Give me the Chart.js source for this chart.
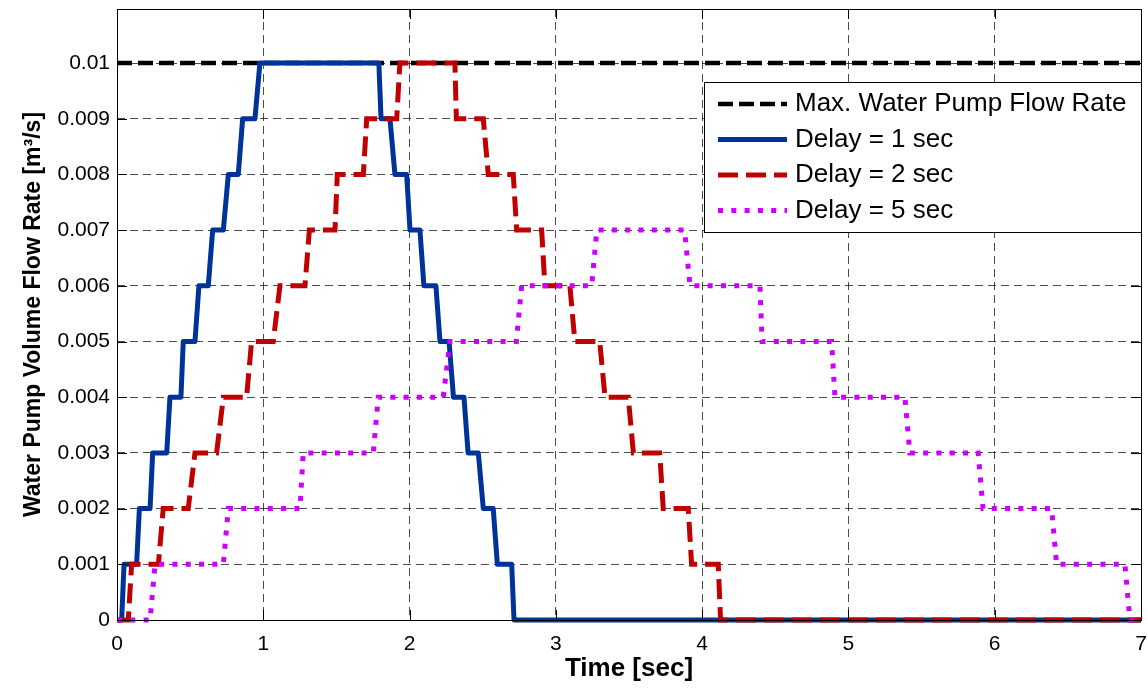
<!DOCTYPE html>
<html lang="en">
<head>
<meta charset="UTF-8">
<title>Water Pump Volume Flow Rate</title>
<script src="https://cdn.jsdelivr.net/npm/chart.js"></script>
<style>
  body { margin: 0; background: #fff; }
  canvas { display: block; }
</style>
</head>
<body>
<canvas id="chart" width="1148" height="688"></canvas>
<script>
// corner points of each curve (time in sec, flow in m3/s)
const timeMax = [0, 7];
const flowMax = [0.01, 0.01];

const timeDelay1 = [0, 0.032, 0.048, 0.134, 0.153, 0.226, 0.244, 0.340, 0.362, 0.437, 0.453,
    0.533, 0.560, 0.624, 0.654, 0.727, 0.761, 0.829, 0.859, 0.943, 0.977,
    1.790, 1.805, 1.866, 1.900, 1.980, 2.003, 2.071, 2.098, 2.180, 2.208,
    2.270, 2.300, 2.372, 2.400, 2.470, 2.504, 2.572, 2.600, 2.698, 2.714, 7];
const flowDelay1 = [0, 0, 0.001, 0.001, 0.002, 0.002, 0.003, 0.003, 0.004, 0.004, 0.005,
    0.005, 0.006, 0.006, 0.007, 0.007, 0.008, 0.008, 0.009, 0.009, 0.010,
    0.010, 0.009, 0.009, 0.008, 0.008, 0.007, 0.007, 0.006, 0.006, 0.005,
    0.005, 0.004, 0.004, 0.003, 0.003, 0.002, 0.002, 0.001, 0.001, 0, 0];

const timeDelay2 = [0, 0.077, 0.100, 0.283, 0.316, 0.487, 0.533, 0.681, 0.727, 0.886, 0.920,
    1.068, 1.114, 1.285, 1.315, 1.490, 1.506, 1.684, 1.707, 1.912, 1.934,
    2.310, 2.320, 2.504, 2.538, 2.709, 2.732, 2.903, 2.925, 3.096, 3.130,
    3.300, 3.336, 3.495, 3.530, 3.710, 3.734, 3.905, 3.928, 4.110, 4.126, 7];
const flowDelay2 = [0, 0, 0.001, 0.001, 0.002, 0.002, 0.003, 0.003, 0.004, 0.004, 0.005,
    0.005, 0.006, 0.006, 0.007, 0.007, 0.008, 0.008, 0.009, 0.009, 0.010,
    0.010, 0.009, 0.009, 0.008, 0.008, 0.007, 0.007, 0.006, 0.006, 0.005,
    0.005, 0.004, 0.004, 0.003, 0.003, 0.002, 0.002, 0.001, 0.001, 0, 0];

const timeDelay5 = [0, 0.226, 0.260, 0.727, 0.761, 1.251, 1.273, 1.752, 1.786, 2.230, 2.276,
    2.730, 2.766, 3.245, 3.280, 3.880, 3.917, 4.395, 4.410, 4.885, 4.908,
    5.386, 5.420, 5.887, 5.920, 6.389, 6.423, 6.890, 6.924, 7];
const flowDelay5 = [0, 0, 0.001, 0.001, 0.002, 0.002, 0.003, 0.003, 0.004, 0.004, 0.005,
    0.005, 0.006, 0.006, 0.007, 0.007, 0.006, 0.006, 0.005, 0.005, 0.004,
    0.004, 0.003, 0.003, 0.002, 0.002, 0.001, 0.001, 0, 0];

const seriesLabels = ["Max. Water Pump Flow Rate", "Delay = 1 sec", "Delay = 2 sec", "Delay = 5 sec"];
const xTicks = [0, 1, 2, 3, 4, 5, 6, 7];
const yTicks = [0, 0.001, 0.002, 0.003, 0.004, 0.005, 0.006, 0.007, 0.008, 0.009, 0.01];

function toPoints(ts, vs) {
    return ts.map((t, i) => ({ x: t, y: vs[i] }));
}

Chart.defaults.font.family = "'Liberation Sans', Arial, sans-serif";
Chart.defaults.color = "#000";

// box round the axes, inward tick marks, and a MATLAB style legend
const framePlugin = {
    id: "frame",
    afterDraw(chart) {
        const ctx = chart.ctx;
        const { left, right, top, bottom } = chart.chartArea;
        const xs = chart.scales.x, ys = chart.scales.y;
        ctx.save();
        ctx.strokeStyle = "#000";
        ctx.lineWidth = 1;
        ctx.setLineDash([]);
        ctx.beginPath();
        xTicks.forEach(v => {
            const px = Math.round(xs.getPixelForValue(v)) + 0.5;
            ctx.moveTo(px, bottom); ctx.lineTo(px, bottom - 10);
            ctx.moveTo(px, top); ctx.lineTo(px, top + 10);
        });
        yTicks.forEach(v => {
            const py = Math.round(ys.getPixelForValue(v)) + 0.5;
            ctx.moveTo(left, py); ctx.lineTo(left + 10, py);
            ctx.moveTo(right, py); ctx.lineTo(right - 10, py);
        });
        ctx.stroke();
        ctx.strokeRect(left + 0.5, top + 0.5, right - left, bottom - top);

        // legend
        const bx = 704, by = 82, bw = right - 704, bh = 150;
        ctx.fillStyle = "#fff";
        ctx.fillRect(bx, by, bw, bh);
        ctx.strokeRect(bx + 0.5, by + 0.5, bw, bh);
        ctx.font = "26px 'Liberation Sans', Arial, sans-serif";
        ctx.textBaseline = "middle";
        ctx.textAlign = "left";
        chart.data.datasets.forEach((ds, i) => {
            const y = 104 + i * 35.5;
            ctx.beginPath();
            ctx.strokeStyle = ds.borderColor;
            ctx.lineWidth = ds.borderWidth;
            ctx.setLineDash(ds.borderDash || []);
            ctx.moveTo(718, y);
            ctx.lineTo(787, y);
            ctx.stroke();
            ctx.setLineDash([]);
            ctx.fillStyle = "#000";
            ctx.fillText(ds.label, 795, y);
        });
        ctx.restore();
    }
};

new Chart(document.getElementById("chart"), {
    type: "line",
    data: {
        datasets: [
            {
                label: seriesLabels[0],
                data: toPoints(timeMax, flowMax),
                borderColor: "#000000",
                borderWidth: 4.5,
                borderDash: [15, 6],
                order: 4
            },
            {
                label: seriesLabels[1],
                data: toPoints(timeDelay1, flowDelay1),
                borderColor: "#003399",
                borderWidth: 5,
                borderJoinStyle: "round",
                order: 3
            },
            {
                label: seriesLabels[2],
                data: toPoints(timeDelay2, flowDelay2),
                borderColor: "#c00000",
                borderWidth: 5,
                borderDash: [20, 8],
                order: 2
            },
            {
                label: seriesLabels[3],
                data: toPoints(timeDelay5, flowDelay5),
                borderColor: "#cc00ff",
                borderWidth: 5,
                borderDash: [5, 8.3],
                order: 1
            }
        ]
    },
    options: {
        responsive: false,
        animation: false,
        clip: false,
        elements: { point: { radius: 0 }, line: { tension: 0, fill: false } },
        layout: { padding: { top: 9, right: 7, left: 0, bottom: 0 } },
        plugins: { legend: { display: false }, tooltip: { enabled: false } },
        scales: {
            x: {
                type: "linear",
                min: 0,
                max: 7,
                afterFit: s => { s.height = 68; s.paddingLeft = 0; s.paddingRight = 0; },
                afterBuildTicks: s => { s.ticks = xTicks.map(v => ({ value: v })); },
                grid: { color: "rgba(0,0,0,0.7)", lineWidth: 1, drawTicks: false },
                border: { display: false, dash: [8, 5] },
                ticks: { font: { size: 21 }, padding: 12, maxRotation: 0 },
                title: {
                    display: true,
                    text: "Time [sec]",
                    font: { size: 26, weight: "bold" },
                    padding: { top: 0, bottom: 4 }
                }
            },
            y: {
                type: "linear",
                min: 0,
                max: 0.01097,
                afterFit: s => { s.width = 117; s.paddingTop = 0; s.paddingBottom = 0; },
                afterBuildTicks: s => { s.ticks = yTicks.map(v => ({ value: v })); },
                grid: { color: "rgba(0,0,0,0.7)", lineWidth: 1, drawTicks: false },
                border: { display: false, dash: [8, 5] },
                ticks: {
                    font: { size: 21 },
                    padding: 7,
                    callback: v => v === 0 ? "0" : String(Number(v.toFixed(3)))
                },
                title: {
                    display: true,
                    text: "Water Pump Volume Flow Rate [m³/s]",
                    font: { size: 23, weight: "bold" },
                    padding: { top: 20, bottom: 0 }
                }
            }
        }
    },
    plugins: [framePlugin]
});
</script>
</body>
</html>
